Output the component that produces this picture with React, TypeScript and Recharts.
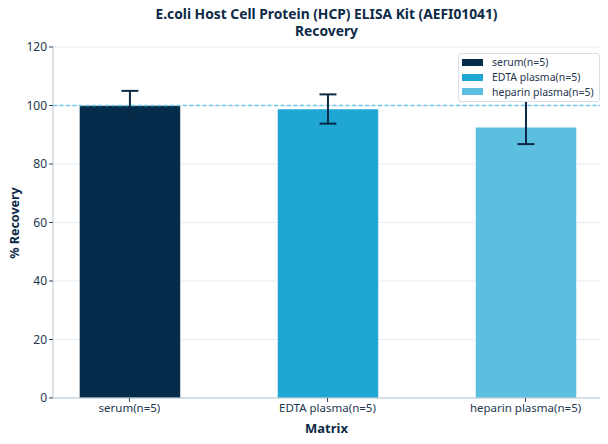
import { BarChart, Bar, XAxis, YAxis, CartesianGrid, ReferenceLine, ErrorBar, Cell, Label } from 'recharts';

const categories = ['serum(n=5)', 'EDTA plasma(n=5)', 'heparin plasma(n=5)'];
const recovery = [100, 98.8, 92.6];
const errLow = [5, 5, 5.8];
const errHigh = [5, 5, 11];
const yTicks = [0, 20, 40, 60, 80, 100, 120];
const colors = ['#032c4a', '#1fa6d3', '#5cbfdf'];
const titleLines = ['E.coli Host Cell Protein (HCP) ELISA Kit (AEFI01041)', 'Recovery'];

const data = categories.map((name, i) => ({
  idx: i,
  name,
  value: recovery[i],
  err: [errLow[i], errHigh[i]],
}));

const font = '"Noto Sans", sans-serif';
const dark = '#0d2a47';

const LegendBox = () => (
  <div
    style={{
      position: 'absolute',
      left: 458,
      top: 53,
      background: '#fff',
      border: '1px solid #d6e0e8',
      borderRadius: 3,
      padding: '1px 5px 2px 3px',
      fontSize: 10.5,
      color: '#1f3550',
      fontFamily: font,
    }}
  >
    {categories.map((c, i) => (
      <div key={c} style={{ display: 'flex', alignItems: 'center', height: 14.7 }}>
        <span style={{ width: 21, height: 7, background: colors[i], marginRight: 9, display: 'inline-block' }} />
        {c}
      </div>
    ))}
  </div>
);

export default function App() {
  return (
    <div style={{ position: 'absolute', left: 0, top: 0, width: 608, height: 444, background: '#fff', fontFamily: font }}>
      <svg width={608} height={42} style={{ position: 'absolute', left: 0, top: 0 }}>
        {titleLines.map((t, i) => (
          <text key={t} x={326.5} y={19 + i * 17} textAnchor="middle" fontSize={13.8} fontWeight="bold" fill={dark} fontFamily={font}>
            {t}
          </text>
        ))}
      </svg>
      <BarChart width={608} height={444} data={data} margin={{ top: 47, right: 8, left: 8, bottom: 10 }}>
        <CartesianGrid vertical={false} stroke="#e6edf2" />
        <ReferenceLine y={100} stroke="#72c8ec" strokeWidth={1.5} strokeDasharray="4 2.5" />
        <XAxis
          type="number"
          dataKey="idx"
          domain={[-0.386, 2.376]}
          ticks={[0, 1, 2]}
          allowDataOverflow
          tickFormatter={(v) => categories[v]}
          stroke="#b9c8d3"
          tickLine={{ stroke: '#33475b' }}
          tickSize={4}
          tick={{ fill: '#23384f', fontSize: 11.5 }}
          height={36}
        >
          <Label
            content={() => (
              <text x={326.5} y={428} textAnchor="middle" dominantBaseline="central" fontSize={13} fontWeight="bold" fill={dark}>
                Matrix
              </text>
            )}
          />
        </XAxis>
        <YAxis
          domain={[0, 120]}
          ticks={yTicks}
          width={45}
          stroke="#b9c8d3"
          tickLine={{ stroke: '#33475b' }}
          tickSize={4}
          tick={{ fill: '#23384f', fontSize: 12 }}
        >
          <Label
            content={() => (
              <text
                x={14}
                y={223}
                transform="rotate(-90 14 223)"
                textAnchor="middle"
                dominantBaseline="central"
                fontSize={12.5}
                fontWeight="bold"
                fill={dark}
              >
                % Recovery
              </text>
            )}
          />
        </YAxis>
        <Bar dataKey="value" barSize={101} stroke="#ffffff" strokeOpacity={0.5} isAnimationActive={false}>
          {data.map((d, i) => (
            <Cell key={d.name} fill={colors[i]} />
          ))}
          <ErrorBar dataKey="err" direction="y" width={8.5} stroke="#0b2a45" strokeWidth={2} isAnimationActive={false} />
        </Bar>
      </BarChart>
      <LegendBox />
    </div>
  );
}
